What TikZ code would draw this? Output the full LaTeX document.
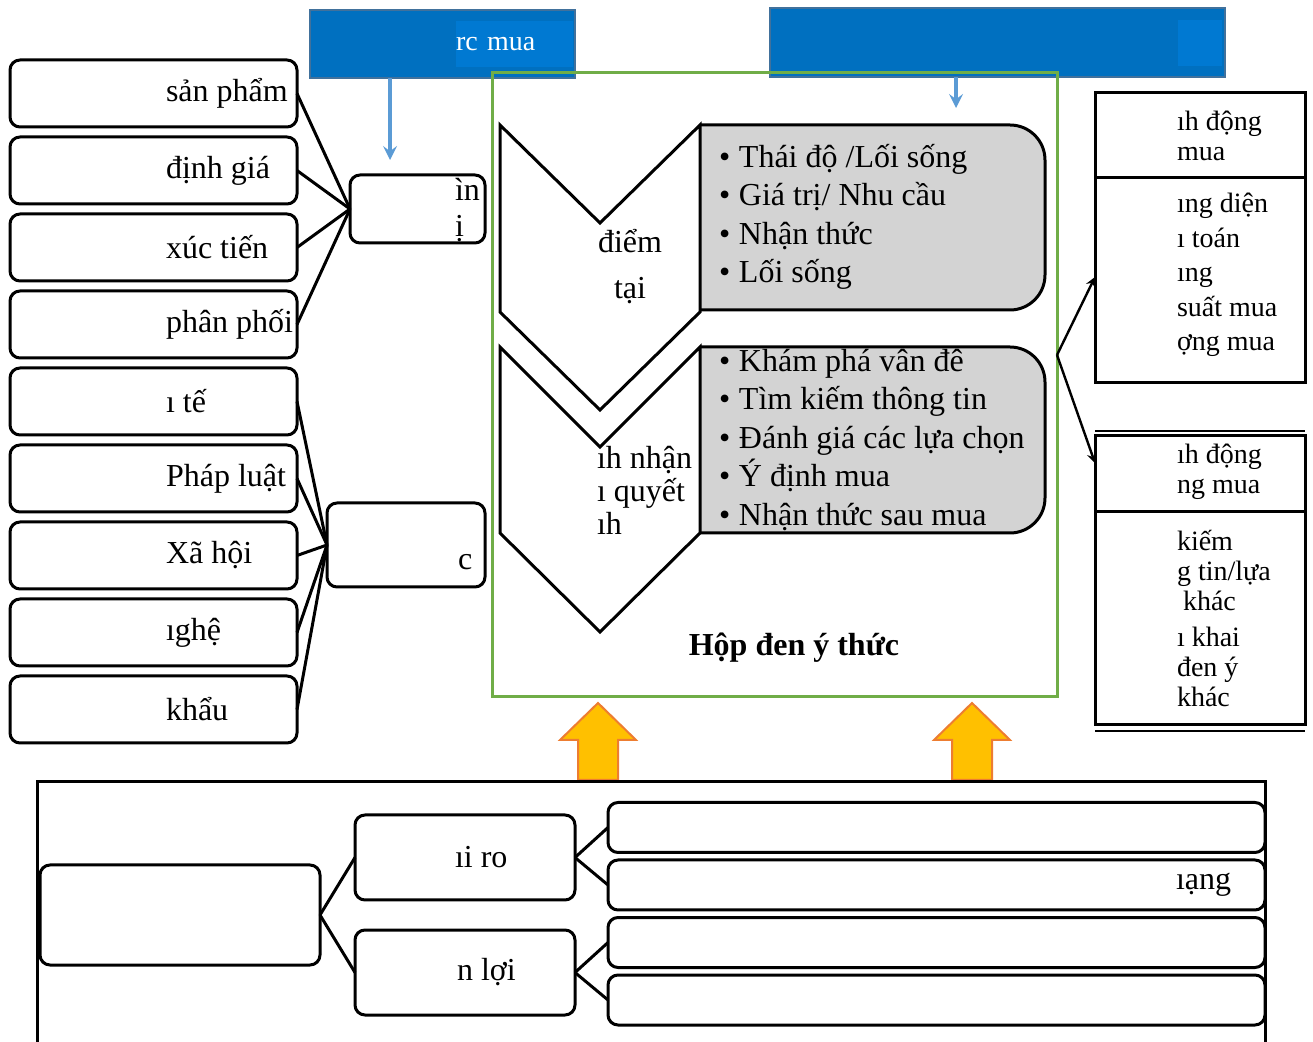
\documentclass[tikz,border=0pt]{standalone}
\usepackage{fontspec}
\setmainfont{Liberation Serif}
\usetikzlibrary{positioning}
\definecolor{hdrblue}{HTML}{0070C0}
\definecolor{hdredge}{HTML}{41719C}
\definecolor{patchblue}{HTML}{0079D2}
\definecolor{arrblue}{HTML}{5B9BD5}
\definecolor{boxgreen}{HTML}{70AD47}
\definecolor{boxgray}{HTML}{D3D3D3}
\definecolor{upyellow}{HTML}{FFC000}
\definecolor{uporange}{HTML}{ED7D31}
\newcommand{\blt}{\makebox[10pt][l]{\textbullet}}

\begin{document}
\begin{tikzpicture}[>=stealth, x=0.5pt, y=-0.5pt,
  every node/.style={inner sep=0pt, outer sep=0pt, font=\fontsize{16}{19}\selectfont},
  lbox/.style={draw, rounded corners=5pt, line width=1.5pt, minimum width=143.5pt, minimum height=33.5pt},
  rbox/.style={draw, line width=1.5pt, minimum width=105pt},
  bbox/.style={draw, rounded corners=5pt, line width=1.5pt, minimum width=328.5pt, minimum height=25pt},
  hdr/.style={draw=hdredge, fill=hdrblue, line width=1pt},
  link/.style={line width=1.5pt},
  small/.style={font=\fontsize{14}{15}\selectfont}]
  \useasboundingbox (0,0) rectangle (1313,1042);

  % headers
  \node[hdr, minimum width=132.5pt, minimum height=34pt] (hdA) at (442.5,44) {};
  \node[fill=patchblue, text=white, text width=58.5pt, minimum height=23pt, align=left, small, anchor=west] (hdAt) at (456,44) {rc mua};
  \node[hdr, minimum width=227.5pt, minimum height=34.5pt] (hdB) at (997.5,42.5) {};
  \node[fill=patchblue, minimum width=22pt, minimum height=23pt] (hdBp) at (1200,43) {};
  \coordinate (aEnd) at (390,160);
  \coordinate (bEnd) at (956,108);
  \draw[->, arrblue, line width=2pt] ([xshift=-26.25pt]hdA.south) -- (aEnd);
  \draw[->, arrblue, line width=2pt] ([xshift=-20.75pt]hdB.south) -- (bEnd);

  % left column
  \node[lbox] (p1) at (153.5,93.5) {};
  \node[lbox, below=5pt of p1] (p2) {};
  \node[lbox, below=5pt of p2] (p3) {};
  \node[lbox, below=5pt of p3] (p4) {};
  \node[lbox, below=5pt of p4] (p5) {};
  \node[lbox, below=5pt of p5] (p6) {};
  \node[lbox, below=5pt of p6] (p7) {};
  \node[lbox, below=5pt of p7] (p8) {};
  \node[lbox, below=5pt of p8] (p9) {};
  \foreach \n/\t in {p1/sản phẩm, p2/định giá, p3/xúc tiến, p4/phân phối, p5/ı tế,
                     p6/Pháp luật, p7/Xã hội, p8/ıghệ, p9/khẩu}
    \node[anchor=west] (\n-t) at ([xshift=78pt]\n.west) {\t};

  \node[draw, rounded corners=5pt, line width=1.5pt, minimum width=67.5pt, minimum height=34pt] (mk) at (417.5,209) {};
  \node[anchor=west, align=left, font=\fontsize{16}{18}\selectfont] (mk-t) at (455,210) {ìn\\ị};
  \node[draw, rounded corners=5pt, line width=1.5pt, minimum width=79pt, minimum height=42pt] (mt) at (406,545) {};
  \node[anchor=west] (mt-t) at (458,562) {c};
  \foreach \n in {p1,p2,p3,p4}
    \draw[link] (\n.east) -- (mk.west);
  \foreach \n in {p5,p6,p7,p8,p9}
    \draw[link] (\n.east) -- (mt.west);

  % black box
  \node[draw=boxgreen, line width=1.5pt, minimum width=282.5pt, minimum height=312pt] (hop) at (774.5,385) {};
  \node[minimum width=172.5pt, minimum height=92.5pt] (g1) at (872.5,217.5) {};
  \node[minimum width=172.5pt, minimum height=93pt] (g2) at (872.5,440) {};
  \foreach \g in {g1,g2} {
    \begin{scope}
      \clip ([yshift=3pt]\g.north west) rectangle ([xshift=3pt,yshift=-3pt]\g.south east);
      \draw[link, fill=boxgray, rounded corners=17.5pt] ([xshift=-30pt]\g.north west) rectangle (\g.south east);
    \end{scope}
  }
  \draw[link, fill=white] (500,125) -- (600,223) -- (700,125) -- (700,312) -- (600,410) -- (500,312) -- cycle;
  \draw[link, fill=white] (500,347) -- (600,447) -- (700,347) -- (700,533) -- (600,632) -- (500,533) -- cycle;
  \node[align=center, font=\fontsize{16}{23}\selectfont] (c1) at (630,267) {điểm\\tại};
  \node[anchor=west, align=left, font=\fontsize{16}{16.5}\selectfont] (c2) at (597,490) {ıh nhận\\ı quyết\\ıh};
  \node[anchor=west, align=left, font=\fontsize{16}{19.25}\selectfont] (l1) at (719,217) {\blt Thái độ /Lối sống\\ \blt Giá trị/ Nhu cầu\\ \blt Nhận thức\\ \blt Lối sống};
  \node[anchor=west, align=left, font=\fontsize{16}{19.25}\selectfont] (l2) at (719,440) {\blt Khám phá vân đê\\ \blt Tìm kiếm thông tin\\ \blt Đánh giá các lựa chọn\\ \blt Ý định mua\\ \blt Nhận thức sau mua};
  \node[font=\fontsize{16}{19}\selectfont\bfseries] (title) at (794,648) {Hộp đen ý thức};

  % up arrows
  \foreach \cx in {598,972}
    \draw[fill=upyellow, draw=uporange, line width=1pt] (\cx-20,780) -- (\cx-20,740) -- (\cx-38,740) -- (\cx,703)
      -- (\cx+38,740) -- (\cx+20,740) -- (\cx+20,780) -- cycle;

  % right boxes
  \node[rbox, minimum height=145pt] (r1) at (1200,238) {};
  \draw[link] ([yshift=-42.5pt]r1.north west) -- ([yshift=-42.5pt]r1.north east);
  \node[rbox, minimum height=144.5pt] (r2) at (1200,580.5) {};
  \draw[link] ([yshift=-38pt]r2.north west) -- ([yshift=-38pt]r2.north east);
  \draw[line width=0.6pt] ([yshift=2.5pt]r2.north west) -- ([yshift=2.5pt]r2.north east);
  \draw[line width=0.6pt] ([yshift=-3pt]r2.south west) -- ([yshift=-3pt]r2.south east);
  \node[anchor=west, align=left, small] (r1h) at (1177,136) {ıh động\\mua};
  \node[anchor=west, align=left, font=\fontsize{14}{17.2}\selectfont] (r1b) at (1177,275) {ıng diện\\ı toán\\ıng\\suất mua\\ợng mua};
  \node[anchor=west, align=left, small] (r2h) at (1177,472) {ıh động\\ng mua};
  \node[anchor=west, align=left, small] (r2b) at (1177,619) {kiếm\\g tin/lựa\\\hspace*{3pt}khác\\[3pt]ı khai\\đen ý\\khác};
  \coordinate (fork) at ([yshift=15pt]hop.east);
  \draw[->, line width=1.2pt] (fork) -- ([yshift=-19.5pt]r1.west);
  \draw[->, line width=1.2pt] (fork) -- ([yshift=58.75pt]r2.west);

  % bottom frame
  \draw[link] (37,1042) -- (37,782) -- (1265,782) -- (1265,1042);
  \node[draw, rounded corners=5pt, line width=1.5pt, minimum width=140pt, minimum height=50pt] (lb) at (180,915) {};
  \node[draw, rounded corners=5pt, line width=1.5pt, minimum width=110pt, minimum height=42.5pt] (rr) at (465,857.5) {};
  \node[draw, rounded corners=5pt, line width=1.5pt, minimum width=110pt, minimum height=42.5pt] (nl) at (465,972.5) {};
  \node[anchor=west] (rr-t) at (455,857) {ıi ro};
  \node[anchor=west] (nl-t) at (457,972) {n lợi};
  \node[bbox] (b1) at (936.5,827.5) {};
  \node[bbox, below=3.75pt of b1] (b2) {};
  \node[bbox, below=3.75pt of b2] (b3) {};
  \node[bbox, below=3.75pt of b3] (b4) {};
  \node[anchor=west] (b2-t) at (1176,885) {ıạng};
  \draw[link] (lb.east) -- (rr.west);
  \draw[link] (lb.east) -- (nl.west);
  \draw[link] (rr.east) -- (b1.west);
  \draw[link] (rr.east) -- (b2.west);
  \draw[link] (nl.east) -- (b3.west);
  \draw[link] (nl.east) -- (b4.west);
\end{tikzpicture}
\end{document}
